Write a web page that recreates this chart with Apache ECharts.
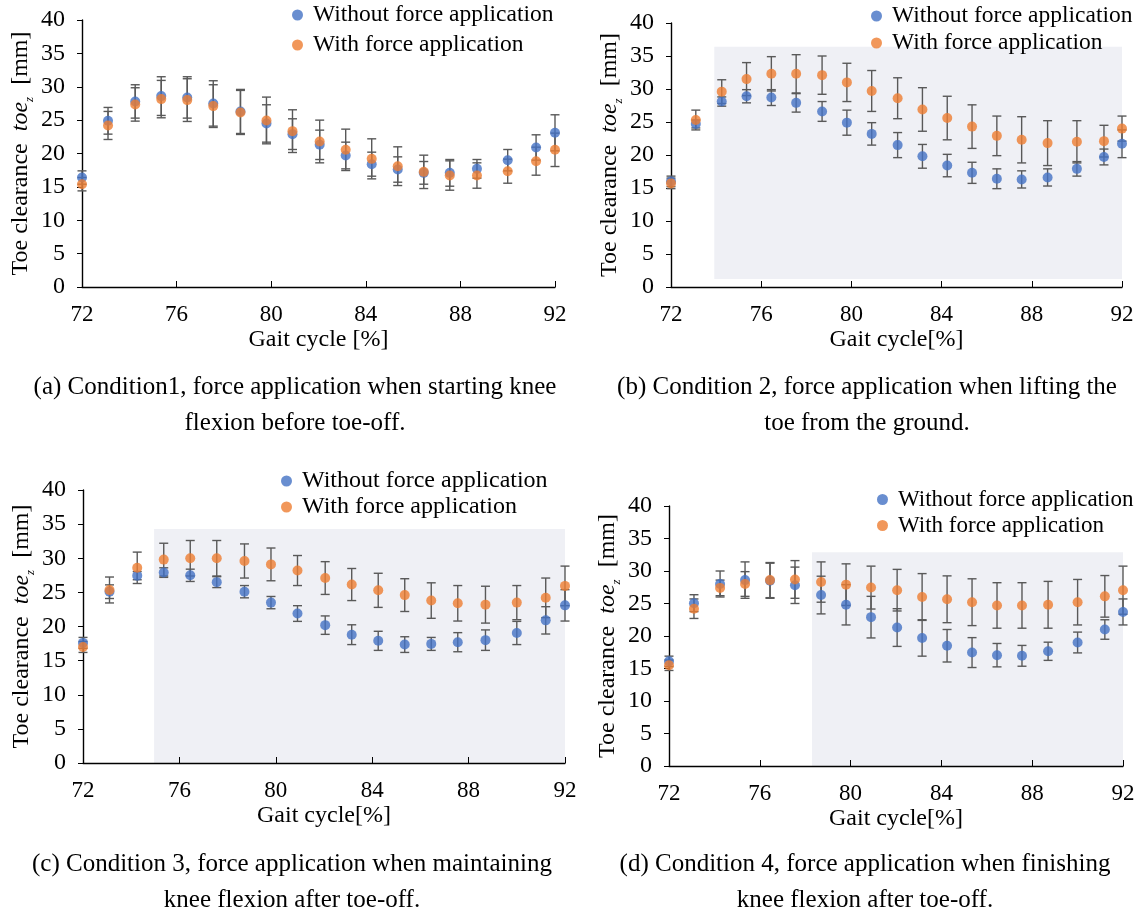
<!DOCTYPE html>
<html>
<head>
<meta charset="utf-8">
<script src="https://cdn.jsdelivr.net/npm/echarts@6/dist/echarts.min.js"></script>
<style>
  html, body { margin: 0; padding: 0; background: #fff; }
  #main { width: 1138px; height: 913px; }
</style>
</head>
<body>
<div id="main"></div>
<script>
// gait cycle sample positions [%]
const gaitCycle = [72, 73.1, 74.25, 75.35, 76.45, 77.55, 78.7, 79.8, 80.9, 82.05, 83.15, 84.25, 85.35, 86.45, 87.55, 88.7, 90.0, 91.2, 92.0]
const xTicks = [72, 76, 80, 84, 88, 92]

// condition 1
const c1Without = [16.4, 24.9, 27.8, 28.6, 28.4, 27.5, 26.3, 24.5, 22.9, 21.3, 19.7, 18.4, 17.6, 17.1, 17.1, 17.7, 19.0, 20.9, 23.1]
const c1With = [15.4, 24.2, 27.35, 28.15, 28.0, 27.1, 26.15, 24.95, 23.35, 21.8, 20.55, 19.2, 18.1, 17.25, 16.7, 16.7, 17.35, 18.85, 20.55]
const c1WithoutSd = [1.0, 2.0, 2.5, 2.9, 3.1, 3.4, 3.3, 2.8, 2.3, 2.2, 2.0, 1.8, 1.9, 1.7, 2.0, 1.4, 1.6, 1.9, 2.7]
const c1WithSd = [1.0, 2.1, 2.5, 2.8, 3.2, 3.2, 3.3, 3.5, 3.2, 3.2, 3.1, 3.0, 2.9, 2.5, 2.2, 1.9, 1.8, 2.1, 2.5]

// condition 2
const c2Without = [16.0, 24.7, 28.1, 28.9, 28.7, 27.9, 26.6, 24.9, 23.2, 21.5, 19.8, 18.4, 17.3, 16.4, 16.3, 16.6, 17.9, 19.7, 21.7]
const c2With = [15.7, 25.3, 29.6, 31.5, 32.3, 32.3, 32.1, 31.0, 29.7, 28.6, 26.9, 25.6, 24.3, 22.9, 22.3, 21.8, 22.0, 22.1, 24.0]
const c2WithoutSd = [0.8, 0.6, 0.7, 1.0, 1.2, 1.4, 1.5, 1.9, 1.7, 1.9, 1.8, 1.7, 1.6, 1.5, 1.3, 1.3, 1.1, 1.2, 2.1]
const c2WithSd = [0.8, 1.5, 1.8, 2.5, 2.6, 2.9, 2.9, 2.9, 3.1, 3.1, 3.3, 3.3, 3.3, 3.0, 3.5, 3.4, 3.2, 2.4, 1.9]

// condition 3
const c3Without = [17.6, 25.1, 27.45, 27.9, 27.5, 26.5, 25.1, 23.5, 21.9, 20.2, 18.8, 17.9, 17.35, 17.45, 17.7, 18.0, 19.05, 20.9, 23.1]
const c3With = [17.0, 25.35, 28.6, 29.8, 30.0, 30.0, 29.6, 29.1, 28.2, 27.1, 26.15, 25.3, 24.6, 23.8, 23.4, 23.2, 23.5, 24.2, 25.95]
const c3WithoutSd = [0.8, 1.0, 0.6, 0.7, 0.9, 0.8, 0.9, 0.9, 1.15, 1.35, 1.45, 1.4, 1.15, 0.95, 1.4, 1.5, 1.7, 2.0, 2.3]
const c3WithSd = [0.8, 1.9, 2.3, 2.4, 2.6, 2.6, 2.5, 2.4, 2.2, 2.4, 2.35, 2.5, 2.4, 2.6, 2.6, 2.7, 2.5, 2.9, 2.9]

// condition 4
const c4Without = [16.1, 25.05, 28.0, 28.6, 28.5, 27.8, 26.3, 24.8, 22.9, 21.3, 19.7, 18.5, 17.45, 17.05, 16.95, 17.65, 19.0, 21.0, 23.7]
const c4With = [15.5, 24.2, 27.4, 28.0, 28.6, 28.7, 28.3, 27.9, 27.45, 27.05, 26.0, 25.65, 25.2, 24.7, 24.7, 24.8, 25.2, 26.1, 27.05]
const c4WithoutSd = [0.8, 1.3, 2.0, 2.8, 2.7, 2.8, 2.9, 3.1, 3.2, 2.9, 2.8, 2.5, 2.3, 1.8, 1.6, 1.4, 1.6, 1.5, 2.0]
const c4WithSd = [0.8, 1.5, 1.2, 1.9, 2.7, 2.9, 3.1, 3.2, 3.3, 3.2, 3.6, 3.6, 3.6, 3.5, 3.5, 3.6, 3.5, 3.2, 3.7]

// force application period [x start, x end, y bottom, y top] per condition, null = none
const forceWindows = [null, [73.92, 92, 1.2, 36.4], [74.95, 92, 0, 34.3], [78.3, 92, 0, 32.9]]

const captions = [
  '(a) Condition1, force application when starting knee\nflexion before toe-off.',
  '(b) Condition 2, force application when lifting the\ntoe from the ground.',
  '(c) Condition 3, force application when maintaining\nknee flexion after toe-off.',
  '(d) Condition 4, force application when finishing\nknee flexion after toe-off.'
]
const xNames = ['Gait cycle [%]', 'Gait cycle[%]', 'Gait cycle[%]', 'Gait cycle[%]']

const FONT = '"Liberation Serif", "Times New Roman", serif'
const BLUE = '#4472C4'
const ORANGE = '#ED7D31'
const NAME_WITHOUT = 'Without force application'
const NAME_WITH = 'With force application'

const panels = [
  { without: c1Without, withF: c1With, withoutSd: c1WithoutSd, withSd: c1WithSd },
  { without: c2Without, withF: c2With, withoutSd: c2WithoutSd, withSd: c2WithSd },
  { without: c3Without, withF: c3With, withoutSd: c3WithoutSd, withSd: c3WithSd },
  { without: c4Without, withF: c4With, withoutSd: c4WithoutSd, withSd: c4WithSd }
]

const grids = [
  { left: 82, top: 20, width: 473, height: 267 },
  { left: 671, top: 23, width: 451, height: 264 },
  { left: 83, top: 490, width: 482, height: 273 },
  { left: 669, top: 506, width: 454, height: 260 }
]
const legendPos = [
  { left: 292, top: 3, gap: 6, size: 23.5 },
  { left: 871, top: 4, gap: 3, size: 23.5 },
  { left: 281, top: 469, gap: 2, size: 24 },
  { left: 877, top: 488, gap: 3, size: 23 }
]
const captionPos = [
  { x: 290, y: 364 },
  { x: 862, y: 364 },
  { x: 287, y: 841 },
  { x: 860, y: 841 }
]

function errorBarItem(params, api) {
  const x = api.value(0)
  const lo = api.coord([x, api.value(1)])
  const hi = api.coord([x, api.value(2)])
  const half = 4.5
  const style = { stroke: '#595959', lineWidth: 1.4 }
  return {
    type: 'group',
    children: [
      { type: 'line', shape: { x1: lo[0], y1: lo[1], x2: hi[0], y2: hi[1] }, style },
      { type: 'line', shape: { x1: lo[0] - half, y1: lo[1], x2: lo[0] + half, y2: lo[1] }, style },
      { type: 'line', shape: { x1: hi[0] - half, y1: hi[1], x2: hi[0] + half, y2: hi[1] }, style }
    ]
  }
}

function pairs(values) {
  return gaitCycle.map((x, i) => [x, values[i]])
}
function ranges(values, sd) {
  return gaitCycle.map((x, i) => [x, values[i] - sd[i], values[i] + sd[i]])
}

const chartsInstance = echarts.init(document.getElementById('main'))

const option = {
  backgroundColor: '#fff',
  animation: false,
  grid: grids.map(g => ({ left: g.left, top: g.top, width: g.width, height: g.height })),
  title: captions.map((text, i) => ({
    text,
    left: captionPos[i].x,
    top: captionPos[i].y,
    textAlign: 'center',
    textStyle: { fontFamily: FONT, fontSize: 25, fontWeight: 'normal', color: '#000', lineHeight: 36 }
  })),
  legend: legendPos.map(p => ({
    data: [NAME_WITHOUT, NAME_WITH],
    orient: 'vertical',
    left: p.left,
    top: p.top,
    itemGap: p.gap,
    icon: 'circle',
    itemWidth: 11,
    itemHeight: 11,
    padding: 0,
    textStyle: { fontFamily: FONT, fontSize: p.size, color: '#000', padding: [0, 0, 0, 5] }
  })),
  xAxis: grids.map((g, i) => ({
    type: 'value',
    gridIndex: i,
    min: xTicks[0],
    max: xTicks[xTicks.length - 1],
    interval: 4,
    z: 5,
    name: xNames[i],
    nameLocation: 'middle',
    nameGap: 41,
    nameTextStyle: { fontFamily: FONT, fontSize: 24, color: '#000' },
    splitLine: { show: false },
    axisLine: { lineStyle: { color: '#000', width: 1.4 } },
    axisTick: { inside: true, length: 6, lineStyle: { color: '#000' } },
    axisLabel: { fontFamily: FONT, fontSize: 23, color: '#000', margin: 16 }
  })),
  yAxis: grids.map((g, i) => ({
    type: 'value',
    gridIndex: i,
    min: 0,
    max: 40,
    interval: 5,
    name: 'Toe clearance  {it|toe}{sub|z}  [mm]',
    nameLocation: 'middle',
    nameGap: 46,
    nameTextStyle: {
      fontFamily: FONT, fontSize: 24, color: '#000', lineHeight: 26,
      rich: {
        it: { fontFamily: FONT, fontSize: 24, fontStyle: 'italic', color: '#000', lineHeight: 26 },
        sub: { fontFamily: FONT, fontSize: 13, fontStyle: 'italic', color: '#000', verticalAlign: 'bottom', lineHeight: 30 }
      }
    },
    splitLine: { show: false },
    axisLine: { show: true, lineStyle: { color: '#000', width: 1.4 } },
    axisTick: { show: true, length: 5, lineStyle: { color: '#000' } },
    axisLabel: { fontFamily: FONT, fontSize: 24, color: '#000', margin: 17 }
  })),
  series: []
}

panels.forEach((p, i) => {
  const win = forceWindows[i]
  option.series.push({
    type: 'custom',
    name: 'sd-without-' + i,
    xAxisIndex: i,
    yAxisIndex: i,
    renderItem: errorBarItem,
    encode: { x: 0, y: [1, 2] },
    data: ranges(p.without, p.withoutSd),
    z: 2,
    markArea: win ? {
      silent: true,
      itemStyle: { color: '#EFF0F5' },
      data: [[{ coord: [win[0], win[2]] }, { coord: [win[1], win[3]] }]]
    } : undefined
  })
  option.series.push({
    type: 'custom',
    name: 'sd-with-' + i,
    xAxisIndex: i,
    yAxisIndex: i,
    renderItem: errorBarItem,
    encode: { x: 0, y: [1, 2] },
    data: ranges(p.withF, p.withSd),
    z: 2
  })
  option.series.push({
    type: 'scatter',
    name: NAME_WITHOUT,
    xAxisIndex: i,
    yAxisIndex: i,
    symbol: 'circle',
    symbolSize: 10,
    itemStyle: { color: BLUE },
    data: pairs(p.without),
    z: 3
  })
  option.series.push({
    type: 'scatter',
    name: NAME_WITH,
    xAxisIndex: i,
    yAxisIndex: i,
    symbol: 'circle',
    symbolSize: 10,
    itemStyle: { color: ORANGE },
    data: pairs(p.withF),
    z: 4
  })
})

chartsInstance.setOption(option)
</script>
</body>
</html>
